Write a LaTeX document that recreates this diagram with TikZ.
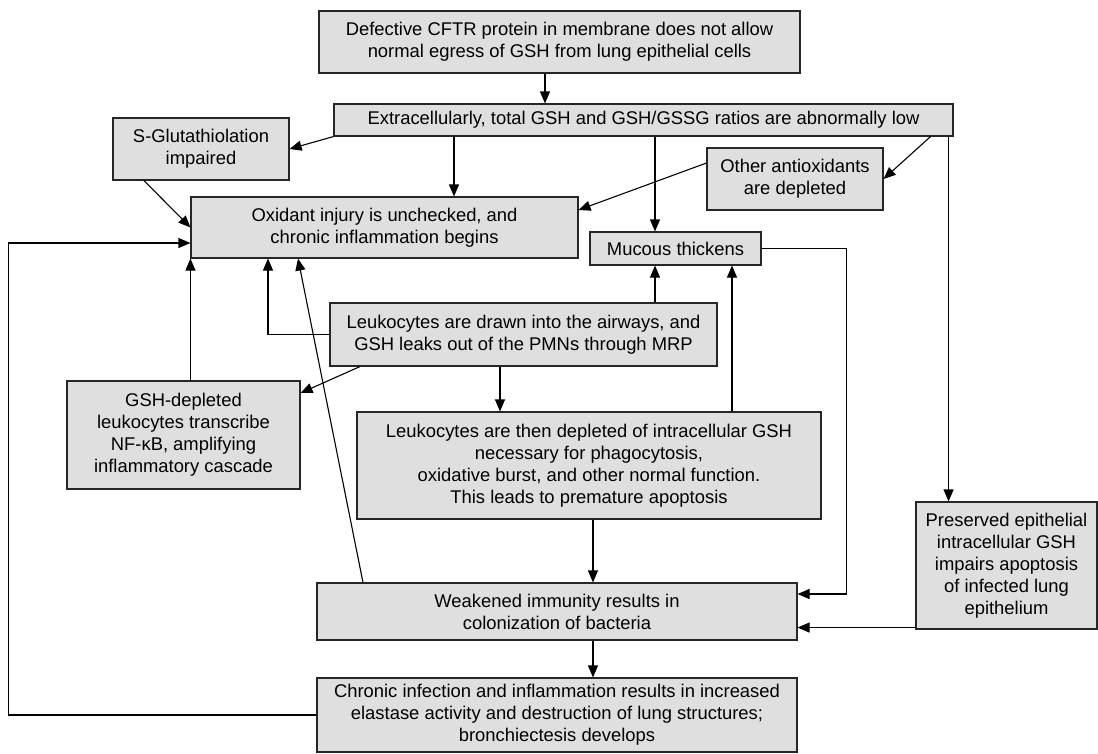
\documentclass[tikz,border=0pt]{standalone}
\usepackage{fontspec}
\setmainfont{Liberation Sans}
\usetikzlibrary{arrows.meta}
\definecolor{boxgray}{RGB}{223,223,223}

\begin{document}
\begin{tikzpicture}[x=1pt, y=-1pt,
  box/.style={draw=black!85, fill=boxgray, line width=1.1pt, align=center,
    inner sep=0pt, font=\fontsize{18.4}{22}\selectfont},
  arr/.style={line width=1.1pt, -{Triangle[length=12pt,width=10pt]}}]
\useasboundingbox (0,0) rectangle (1098,753);

% boxes
\node[box, minimum width=481, minimum height=62] (cftr) at (559.5,42)
  {Defective CFTR protein in membrane does not allow\\normal egress of GSH from lung epithelial cells};
\node[box, minimum width=619, minimum height=32] (extra) at (643.5,120)
  {Extracellularly, total GSH and GSH/GSSG ratios are abnormally low};
\node[box, minimum width=176, minimum height=62] (sglut) at (201,149)
  {S-Glutathiolation\\impaired};
\node[box, minimum width=387, minimum height=61] (oxid) at (384.5,227.5)
  {Oxidant injury is unchecked, and\\chronic inflammation begins};
\node[box, minimum width=171, minimum height=33] (mucous) at (675.5,248.5)
  {Mucous thickens};
\node[box, minimum width=176, minimum height=62] (antiox) at (795,179)
  {Other antioxidants\\are depleted};
\node[box, minimum width=181, minimum height=127] (preserv) at (1006.5,565.5)
  {Preserved epithelial\\intracellular GSH\\impairs apoptosis\\of infected lung\\epithelium};
\node[box, minimum width=480, minimum height=57] (weak) at (557,611.5)
  {Weakened immunity results in\\colonization of bacteria};
\node[box, minimum width=387, minimum height=63] (drawn) at (523.5,334.5)
  {Leukocytes are drawn into the airways, and\\GSH leaks out of the PMNs through MRP};
\node[box, minimum width=233, minimum height=108] (nfkb) at (183.5,435)
  {GSH-depleted\\leukocytes transcribe\\NF-κB, amplifying\\inflammatory cascade};
\node[box, minimum width=464, minimum height=107] (deplet) at (589,465.5)
  {Leukocytes are then depleted of intracellular GSH\\necessary for phagocytosis,\\oxidative burst, and other normal function.\\This leads to premature apoptosis};
\node[box, minimum width=480, minimum height=74] (chronic) at (557,715)
  {Chronic infection and inflammation results in increased\\elastase activity and destruction of lung structures;\\bronchiectesis develops};

% connectors
\draw[arr] ([xshift=-14.5]cftr.south) -- ([xshift=-14.5]cftr.south |- extra.north);
\draw[arr] (extra.south west) -- (sglut.east);
\draw[arr] ([xshift=-189.5]extra.south) -- ([xshift=-189.5]extra.south |- oxid.north);
\draw[arr] ([xshift=11.5]extra.south) -- ([xshift=11.5]extra.south |- mucous.north);
\draw[arr] ([xshift=-23]extra.south east) -- (antiox.east);
\draw[arr] ([xshift=-5]extra.south east) -- ([xshift=-5]extra.south east |- preserv.north);
\draw[arr] ([xshift=-57]sglut.south) -- (oxid.west);
\draw[arr] ([yshift=16]antiox.west) -- ([yshift=17.5]oxid.east);
\draw[arr] (chronic.west) -- ++(-308,0) coordinate (loop) |- ([yshift=-15.5]oxid.west);
\draw[arr] (mucous.east) -- ++(85,0) |- ([yshift=17.5]weak.east);
\draw[arr] ([yshift=2]preserv.south west) -- ([yshift=2]preserv.south west -| weak.east);
\draw[arr] ([xshift=131.5]drawn.north) -- ([xshift=131.5]drawn.north |- mucous.south);
\draw[arr] (drawn.west) -| ([xshift=-116.5]oxid.south);
\draw[arr] ([xshift=-163.5]drawn.south) -- ([yshift=42]nfkb.east);
\draw[arr] ([xshift=-23.5]drawn.south) -- ([xshift=-23.5]drawn.south |- deplet.north);
\draw[arr] (nfkb.north -| oxid.south west) -- (oxid.south west);
\draw[arr] ([xshift=143]deplet.north) -- ([xshift=143]deplet.north |- mucous.south);
\draw[arr] ([xshift=4]deplet.south) -- ([xshift=4]deplet.south |- weak.north);
\draw[arr] ([xshift=-194]weak.north) -- ([xshift=-86.5]oxid.south);
\draw[arr] ([xshift=36]weak.south) -- ([xshift=36]weak.south |- chronic.north);
\end{tikzpicture}
\end{document}
